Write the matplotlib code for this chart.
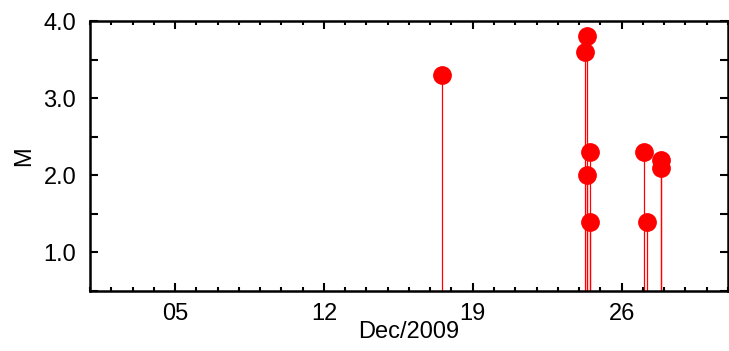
import datetime as dt
from matplotlib import pyplot as plt
import matplotlib.dates as mdates
from matplotlib.ticker import MultipleLocator

plt.rcParams['font.family'] = ['Liberation Sans', 'DejaVu Sans']

# event times (Dec 2009) and magnitudes
times = ["2009-12-17 13:00", "2009-12-24 07:00", "2009-12-24 08:30",
         "2009-12-24 09:10", "2009-12-24 12:30", "2009-12-24 12:40",
         "2009-12-27 01:10", "2009-12-27 04:20", "2009-12-27 20:40",
         "2009-12-27 20:30"]
mags = [3.3, 3.6, 2.0, 3.8, 2.3, 1.4, 2.3, 1.4, 2.2, 2.1]
major_days = [5, 12, 19, 26]

dates = [dt.datetime.strptime(t, "%Y-%m-%d %H:%M") for t in times]

fig = plt.figure(figsize=(7.29, 3.51), dpi=100)
ax = fig.add_axes([0.1235, 0.171, 0.875, 0.769])

ax.vlines(dates, 0, mags, color='red', lw=0.9, zorder=2)
ax.plot(dates, mags, 'o', color='red', ms=12.5, zorder=3)

ax.set_xlim(dt.datetime(2009, 12, 1), dt.datetime(2009, 12, 31))
ax.set_ylim(0.5, 4.0)

ax.xaxis.set_major_locator(mdates.DayLocator(bymonthday=major_days))
ax.xaxis.set_major_formatter(mdates.DateFormatter('%d'))
ax.xaxis.set_minor_locator(mdates.DayLocator())
ax.yaxis.set_major_locator(MultipleLocator(1.0))
ax.yaxis.set_major_formatter(plt.FormatStrFormatter('%.1f'))
ax.yaxis.set_minor_locator(MultipleLocator(0.5))

ax.tick_params(which='both', direction='in', top=True, right=True,
               labelsize=17, width=1.5)
ax.tick_params(axis='x', which='major', length=6, pad=9)
ax.tick_params(axis='x', which='minor', length=3)
ax.tick_params(axis='y', which='both', length=6, pad=10)

for s in ax.spines.values():
    s.set_linewidth(1.8)

ax.set_xlabel('Dec/2009', fontsize=17, labelpad=-3)
ax.set_ylabel('M', fontsize=17, labelpad=6)

fig.savefig('out.png', dpi=100)
